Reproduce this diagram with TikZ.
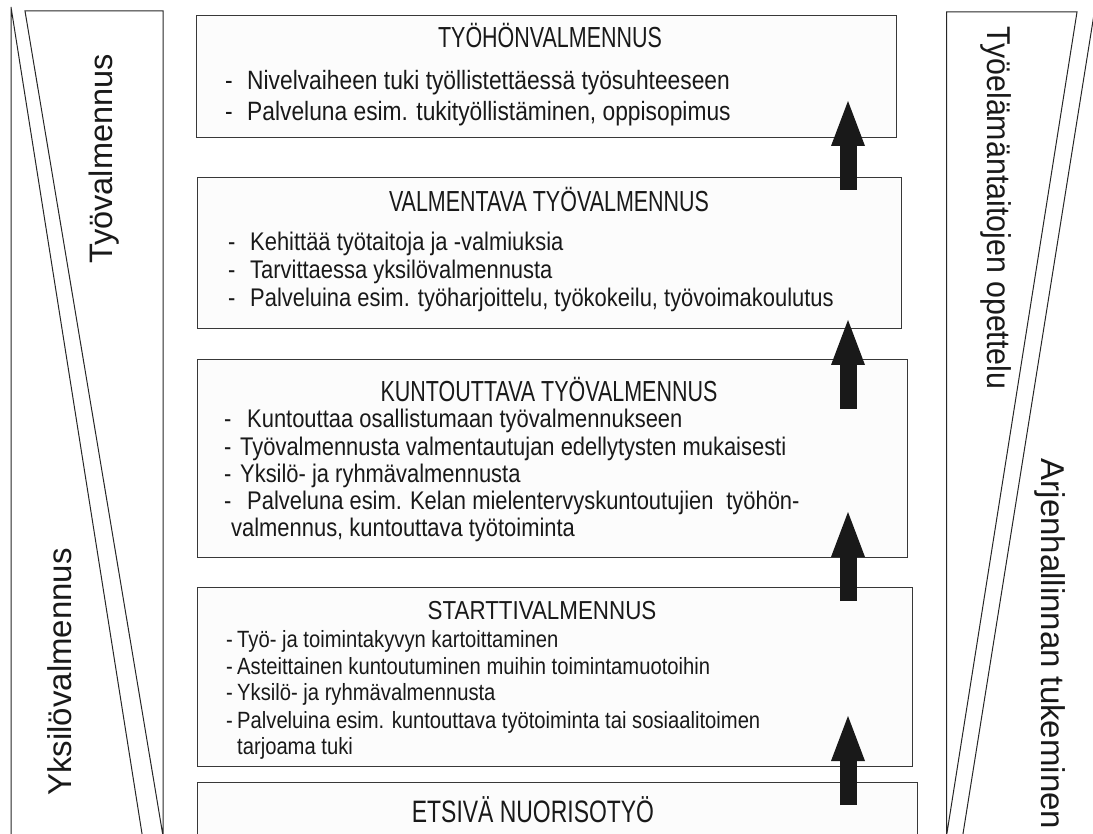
\documentclass[tikz,border=0pt]{standalone}
\usepackage{fontspec}
\setmainfont{Liberation Sans}
\newfontfamily\ttlfont[FakeStretch=0.74]{Liberation Sans}
\newfontfamily\txtfont[FakeStretch=0.86]{Liberation Sans}
\newfontfamily\narfont[FakeStretch=0.92]{Liberation Sans}
\newcommand{\dsh}[1][22pt]{\makebox[#1][l]{-}}
\usetikzlibrary{arrows.meta, positioning, calc}

\begin{document}
\begin{tikzpicture}[x=1pt,y=-1pt,
  boxx/.style={draw=black!78, line width=1.3pt, fill=black!1, anchor=north west, inner sep=0pt},
  ttl/.style={anchor=base, inner sep=0pt, text=black!90, font=\ttlfont\fontsize{29}{31}\selectfont},
  itm/.style={anchor=base west, inner sep=0pt, text=black!90, font=\txtfont\fontsize{25.5}{28}\selectfont},
  side/.style={anchor=base, inner sep=0pt, text=black!90, font=\fontsize{33}{36}\selectfont},
  panel/.style={draw=black!85, line width=1pt, line join=miter},
  uparr/.style={draw=black!90, line width=17pt, -{Triangle[width=34pt,length=45pt,line width=0pt]}}]

\useasboundingbox (0,0) rectangle (1093,834);
\clip (0,0) rectangle (1093,834);

% side panels
\draw[panel] (11,7) -- (143,840) -- (11,840) -- cycle;
\draw[panel] (25,11) -- (163,11) -- (163,836) -- cycle;
\draw[panel] (946.5,12) -- (1077,12) -- (946.5,836) -- cycle;
\draw[panel] (1095,8) -- (962,840) -- (1095,840) -- cycle;

\node[side, rotate=90, font=\fontsize{32.5}{36}\selectfont] (tv) at (112,159) {Työvalmennus};
\node[side, rotate=90] (yv) at (71,672) {Yksilövalmennus};
\node[side, rotate=-90, font=\narfont\fontsize{33}{36}\selectfont] (to) at (987,208) {Työelämäntaitojen opettelu};
\node[side, rotate=-90] (ah) at (1041,644) {Arjenhallinnan tukeminen};

% boxes
\node[boxx, minimum width=700pt, minimum height=122pt] (b1) at (196,15) {};
\node[boxx, minimum width=704pt, minimum height=151pt] (b2) at (197,177) {};
\node[boxx, minimum width=710pt, minimum height=198pt] (b3) at (197,359) {};
\node[boxx, minimum width=715pt, minimum height=179pt] (b4) at (197,587) {};
\node[boxx, minimum width=720pt, minimum height=60pt] (b5) at (197,782) {};

\node[ttl] (t1) at (550,48) {TYÖHÖNVALMENNUS};
\node[ttl] (t2) at (549,212) {VALMENTAVA TYÖVALMENNUS};
\node[ttl] (t3) at (549,402) {KUNTOUTTAVA TYÖVALMENNUS};
\node[ttl, font=\txtfont\fontsize{26}{28}\selectfont] (t4) at (542,619) {STARTTIVALMENNUS};
\node[ttl, font=\ttlfont\fontsize{31}{33}\selectfont] (t5) at (533,822) {ETSIVÄ NUORISOTYÖ};

\foreach \i/\yy/\txt in {1/90/{\dsh Nivelvaiheen tuki työllistettäessä työsuhteeseen},
                         2/121/{\dsh Palveluna esim. tukityöllistäminen, oppisopimus}}
  \node[itm, font=\txtfont\fontsize{26.5}{28}\selectfont] (l1-\i) at (225,\yy) {\txt};

\foreach \i/\yy/\txt in {1/251/{\dsh Kehittää työtaitoja ja -valmiuksia},
                         2/279/{\dsh Tarvittaessa yksilövalmennusta},
                         3/307/{\dsh Palveluina esim. työharjoittelu, työkokeilu, työvoimakoulutus}}
  \node[itm] (l2-\i) at (228,\yy) {\txt};

\foreach \i/\yy/\txt in {1/428/{\dsh[23pt]Kuntouttaa osallistumaan työvalmennukseen},
                         2/455/{\dsh[16pt]Työvalmennusta valmentautujan edellytysten mukaisesti},
                         3/482/{\dsh[16pt]Yksilö- ja ryhmävalmennusta},
                         4/509/{\dsh[23pt]Palveluna esim. Kelan mielentervyskuntoutujien\enspace työhön-},
                         5/536/{\hspace{7pt}valmennus, kuntouttava työtoiminta}}
  \node[itm] (l3-\i) at (224,\yy) {\txt};

\foreach \i/\yy/\txt in {1/647/{\dsh[11pt]Työ- ja toimintakyvyn kartoittaminen},
                         2/674/{\dsh[11pt]Asteittainen kuntoutuminen muihin toimintamuotoihin},
                         3/700/{\dsh[11pt]Yksilö- ja ryhmävalmennusta},
                         4/728/{\dsh[11pt]Palveluina esim. kuntouttava työtoiminta tai sosiaalitoimen},
                         5/754/{\hspace{11pt}tarjoama tuki}}
  \node[itm, font=\txtfont\fontsize{23.5}{26}\selectfont] (l4-\i) at (226,\yy) {\txt};

% arrows between the steps
\coordinate (as1) at (848,190); \coordinate (at1) at (848,101);
\coordinate (as2) at (848,409); \coordinate (at2) at (848,320);
\coordinate (as3) at (848,601); \coordinate (at3) at (848,512);
\coordinate (as4) at (848,805); \coordinate (at4) at (848,716);
\foreach \k in {1,...,4}
  \draw[uparr] (as\k) -- (at\k);
\end{tikzpicture}
\end{document}
